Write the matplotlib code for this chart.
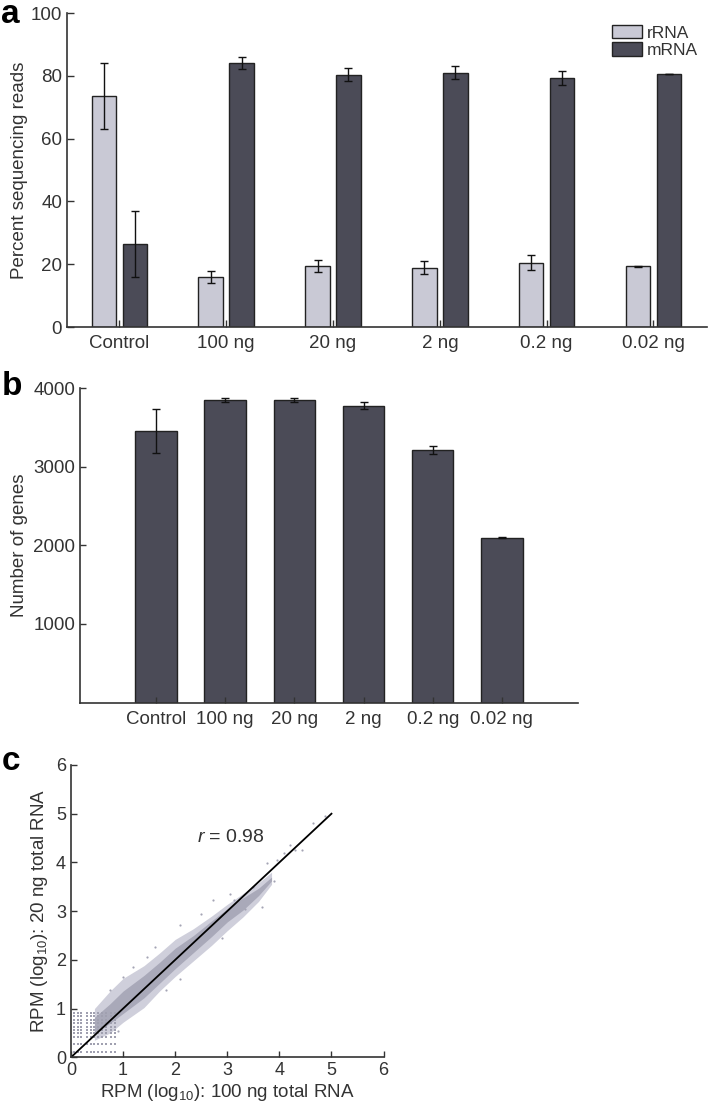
import numpy as np
import matplotlib
matplotlib.use('Agg')
from matplotlib import pyplot as plt
from matplotlib.patches import Patch

plt.rcParams['font.family'] = ['Liberation Sans', 'DejaVu Sans']
plt.rcParams['mathtext.fontset'] = 'custom'
plt.rcParams['mathtext.rm'] = 'Liberation Sans'
plt.rcParams['mathtext.it'] = 'Liberation Sans:italic'
plt.rcParams['text.color'] = '#333333'
plt.rcParams['axes.labelcolor'] = '#333333'
plt.rcParams['xtick.color'] = '#333333'
plt.rcParams['ytick.color'] = '#333333'

# panel a - percent of reads
groups = ['Control', '100 ng', '20 ng', '2 ng', '0.2 ng', '0.02 ng']
rrna = [73.5, 15.9, 19.4, 18.9, 20.5, 19.3]
rrna_err = [10.5, 2.0, 2.0, 2.0, 2.4, 0.1]
mrna = [26.5, 84.1, 80.4, 81.0, 79.3, 80.6]
mrna_err = [10.5, 1.9, 2.0, 2.1, 2.3, 0.1]

# panel b - detected genes
genes = [3455, 3852, 3849, 3776, 3212, 2097]
genes_err = [275, 30, 25, 45, 52, 5]

# panel c - scatter cloud (envelope) and sparse points
cloud_x = [0.45, 0.75, 1.0, 1.4, 1.7, 2.0, 2.35, 2.7, 3.0, 3.3, 3.6, 3.85]
cloud_hi = [1.0, 1.36, 1.62, 1.88, 2.14, 2.42, 2.64, 2.9, 3.14, 3.36, 3.58, 3.8]
cloud_lo = [0.35, 0.5, 0.72, 1.02, 1.36, 1.66, 1.98, 2.3, 2.6, 2.88, 3.2, 3.55]
core_hi = [0.82, 1.1, 1.36, 1.68, 1.95, 2.24, 2.5, 2.8, 3.05, 3.27, 3.47, 3.7]
core_lo = [0.5, 0.7, 0.9, 1.22, 1.52, 1.82, 2.15, 2.48, 2.78, 3.02, 3.32, 3.62]
out_x = [4.88, 4.65, 4.43, 4.21, 4.08, 3.76, 3.89, 3.66, 3.5, 3.34, 3.12, 1.61, 2.1, 2.73, 0.74, 1.83, 2.09, 3.95, 4.3,
         1.2, 1.45, 2.5, 2.9, 3.05, 1.0, 0.9]
out_y = [4.95, 4.80, 4.26, 4.36, 4.19, 3.98, 3.61, 3.09, 3.5, 3.05, 3.22, 2.27, 2.72, 3.22, 1.39, 1.39, 1.6, 4.05, 4.25,
         1.85, 2.05, 2.95, 2.45, 3.35, 1.65, 0.55]
grid_x = [0.06, 0.14, 0.2, 0.3, 0.38, 0.45, 0.52, 0.6, 0.68, 0.76, 0.85]
grid_y = [0.11, 0.28, 0.41, 0.49, 0.56, 0.63, 0.70, 0.77, 0.84, 0.90]

light = '#c9c9d5'
dark = '#4b4b57'
edge = '#222222'
dot = '#a4a4b4'

fig = plt.figure(figsize=(7.09, 11.09), dpi=100)

# ---- a ----
ax = fig.add_axes([0.0945, 0.7051, 0.9025, 0.2831])
x = np.arange(len(groups))
w = 0.23
ax.bar(x - 0.145, rrna, w, color=light, edgecolor=edge, linewidth=1,
       yerr=rrna_err, capsize=3, error_kw=dict(lw=1, capthick=1, ecolor='#111111'))
ax.bar(x + 0.145, mrna, w, color=dark, edgecolor=edge, linewidth=1,
       yerr=mrna_err, capsize=3, error_kw=dict(lw=1, capthick=1, ecolor='#111111'))
ax.set_xlim(-0.49, 5.5)
ax.set_ylim(0, 100)
ax.set_yticks([0, 20, 40, 60, 80, 100])
ax.set_xticks(x)
ax.set_xticklabels(groups)
ax.set_ylabel('Percent sequencing reads', fontsize=13.5, labelpad=2)
ax.tick_params(direction='in', labelsize=13.5, length=5, width=1)
ax.tick_params(axis='x', pad=6)
for s in ['top', 'right']:
    ax.spines[s].set_visible(False)
for s in ['left', 'bottom']:
    ax.spines[s].set_color('#333333')
    ax.spines[s].set_linewidth(1.2)
ax.legend(handles=[Patch(facecolor=light, edgecolor=edge, label='rRNA'),
                   Patch(facecolor=dark, edgecolor=edge, label='mRNA')],
          loc='upper right', bbox_to_anchor=(1.0, 0.99), frameon=False, fontsize=12.5,
          handlelength=1.7, handleheight=0.8, handletextpad=0.3, labelspacing=0.1, borderpad=0)

# ---- b ----
ax = fig.add_axes([0.1128, 0.3665, 0.7024, 0.2834])
ax.bar(x, genes, 0.6, color=dark, edgecolor=edge, linewidth=1,
       yerr=genes_err, capsize=3, error_kw=dict(lw=1, capthick=1, ecolor='#111111'))
ax.set_xlim(-1.1, 6.1)
ax.set_ylim(0, 4000)
ax.set_yticks([1000, 2000, 3000, 4000])
ax.set_xticks(x)
ax.set_xticklabels(groups)
ax.set_ylabel('Number of genes', fontsize=13.5, labelpad=4)
ax.tick_params(direction='in', labelsize=13.5, length=4, width=1)
ax.tick_params(axis='x', pad=6)
for s in ['top', 'right']:
    ax.spines[s].set_visible(False)
for s in ['left', 'bottom']:
    ax.spines[s].set_color('#333333')
    ax.spines[s].set_linewidth(1.2)

# ---- c ----
ax = fig.add_axes([0.1001, 0.0466, 0.4409, 0.2636])
ax.fill_between(cloud_x, cloud_lo, cloud_hi, color='#cfcfdb', linewidth=0)
ax.fill_between(cloud_x, core_lo, core_hi, color='#a9a9b9', linewidth=0)
ax.scatter(out_x, out_y, s=2.5, color=dot, linewidths=0)
gx, gy = np.meshgrid(grid_x, grid_y)
ax.scatter(gx.ravel(), gy.ravel(), s=1.6, marker='s', color='#a0a0b0', linewidths=0)
ax.plot([0, 5], [0, 5], color='black', lw=1.3)
ax.text(2.42, 4.41, r'$\it{r}$ = 0.98', fontsize=14, va='baseline')
ax.set_xlim(0, 6)
ax.set_ylim(0, 6)
ax.set_xticks(range(7))
ax.set_yticks(range(7))
ax.set_xlabel(r'RPM (log$_{10}$): 100 ng total RNA', fontsize=13.5, labelpad=2)
ax.set_ylabel(r'RPM (log$_{10}$): 20 ng total RNA', fontsize=13.5, labelpad=4)
ax.tick_params(direction='in', labelsize=13, length=4, width=1)
for s in ['top', 'right']:
    ax.spines[s].set_visible(False)
for s in ['left', 'bottom']:
    ax.spines[s].set_color('#333333')
    ax.spines[s].set_linewidth(1.2)

fig.text(0.002, 1 - 23 / 1109, 'a', fontsize=24, fontweight='bold', color='black', va='baseline')
fig.text(0.002, 1 - 395 / 1109, 'b', fontsize=24, fontweight='bold', color='black', va='baseline')
fig.text(0.002, 1 - 770 / 1109, 'c', fontsize=24, fontweight='bold', color='black', va='baseline')

fig.savefig('out.png', dpi=100)
